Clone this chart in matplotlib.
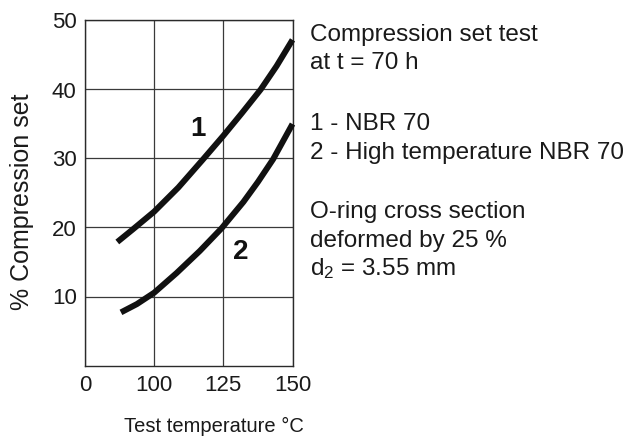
import numpy as np
import matplotlib
matplotlib.use("Agg")
import matplotlib.pyplot as plt

plt.rcParams["font.family"] = ["Liberation Sans", "DejaVu Sans"]

# x axis is not linear: 0, 100, 125, 150 sit at equal spacing
X_TICKS = [0, 100, 125, 150]
Y_TICKS = [10, 20, 30, 40, 50]

# curve 1 - NBR 70
NBR_TEMP = [46.7, 70, 100, 108.75, 117.5, 125, 131.75, 138.5, 144.25, 150]
NBR_SET = [17.9, 19.8, 22.3, 25.8, 29.8, 33.3, 36.6, 40.0, 43.4, 47.2]

# curve 2 - high temperature NBR 70
HT_TEMP = [52, 75, 100, 108.1, 116.5, 124.4, 132.25, 137.5, 143, 150]
HT_SET = [7.7, 8.9, 10.55, 13.4, 16.6, 19.9, 23.7, 26.6, 29.9, 35.0]

NOTE_LINES = [
    "Compression set test",
    "at t = 70 h",
    "1 - NBR 70",
    "2 - High temperature NBR 70",
    "O-ring cross section",
    "deformed by 25 %",
    r"$\mathregular{d_2}$ = 3.55 mm",
]
NOTE_BASELINES = [40.7, 69.3, 129.5, 158.5, 218.3, 246.7, 275.0]

W, H = 635, 436
SLOTS = np.arange(len(X_TICKS), dtype=float)


def forward(x):
    x = np.asarray(x, dtype=float)
    return np.interp(x.ravel(), X_TICKS, SLOTS).reshape(x.shape)


def inverse(s):
    s = np.asarray(s, dtype=float)
    return np.interp(s.ravel(), SLOTS, X_TICKS).reshape(s.shape)


fig = plt.figure(figsize=(W / 100, H / 100), dpi=100)
ax = fig.add_axes([85 / W, 1 - 365.5 / H, 207.5 / W, 345 / H])
ax.set_xscale("function", functions=(forward, inverse))
ax.set_xlim(0, 150)
ax.set_ylim(0, 50)
ax.set_xticks(X_TICKS)
ax.set_yticks(Y_TICKS)
ax.tick_params(length=0, labelsize=16, colors="#1a1a1a")
ax.tick_params(axis="y", pad=6)
ax.tick_params(axis="x", pad=7)
ax.grid(True, color="#3a3a3a", linewidth=0.9)
for sp in ax.spines.values():
    sp.set_color("#2a2a2a")
    sp.set_linewidth(1.0)

line_kw = dict(color="#111111", linewidth=4.3, solid_capstyle="butt", clip_on=False, zorder=3)
ax.plot(NBR_TEMP, NBR_SET, **line_kw)
ax.plot(HT_TEMP, HT_SET, **line_kw)

ax.text(115.7, 33.2, "1", fontsize=20, fontweight="bold", ha="center", va="baseline", color="#111111")
ax.text(131.2, 15.5, "2", fontsize=20, fontweight="bold", ha="center", va="baseline", color="#111111")

fig.text(22 / W, 1 - 201.5 / H, "% Compression set", rotation=90, ha="center", va="center",
         fontsize=18, color="#1a1a1a")
fig.text(213.5 / W, 1 - 432 / H, "Test temperature °C", ha="center", va="baseline",
         fontsize=14.5, color="#1a1a1a")

for txt, base in zip(NOTE_LINES, NOTE_BASELINES):
    fig.text(310 / W, 1 - base / H, txt, ha="left", va="baseline", fontsize=17.5, color="#1a1a1a")

fig.savefig("out.png", dpi=100)
